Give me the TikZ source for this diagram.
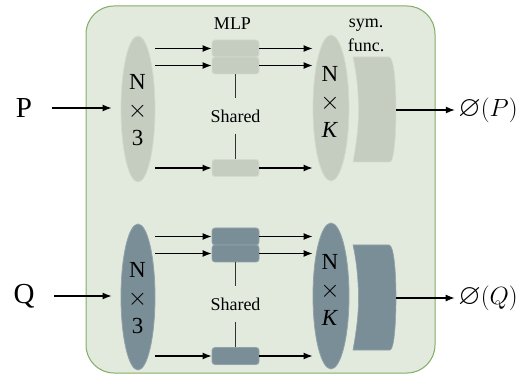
\documentclass[tikz,border=0pt]{standalone}
\usepackage{fontspec}
\setmainfont{Liberation Serif}
\usepackage{amssymb}
\usetikzlibrary{arrows.meta,shapes.geometric,calc}

\definecolor{framefill}{RGB}{226,234,222}
\definecolor{frameline}{RGB}{130,172,100}
\definecolor{grayfill}{RGB}{197,204,192}
\definecolor{grayline}{RGB}{212,218,207}
\definecolor{slatefill}{RGB}{122,142,151}
\definecolor{slateline}{RGB}{146,162,169}

\tikzset{
  arr/.style={line width=1.3pt,-{Latex[length=9pt,width=7pt]}},
  cloud/.style={ellipse,minimum width=34pt,minimum height=146pt,inner sep=0pt,line width=0.8pt},
  mlpbox/.style={rounded corners=3pt,minimum width=47pt,minimum height=17pt,inner sep=0pt,line width=0.8pt},
  small/.style={font=\fontsize{18}{24}\selectfont,align=center},
  dimtext/.style={font=\fontsize{23}{28}\selectfont,align=center},
  big/.style={font=\fontsize{29}{30}\selectfont}
}

\begin{document}
\begin{tikzpicture}[x=1pt,y=-1pt]
\useasboundingbox (0,0) rectangle (527,379);
% outer box
\draw[frameline,fill=framefill,line width=1pt,rounded corners=28pt] (86,6) rectangle (435,373);
\node[small] (mlplabel) at (232.5,24) {MLP};
\node[small] (symlabel) at (366,35) {sym.\\func.};
% one row per point set
\foreach \tag/\dy/\fc/\lc in {P/0/grayfill/grayline, Q/188/slatefill/slateline} {
\begin{scope}[shift={(0,\dy)}]
  \node[big] (in\tag) at (24,108) {\tag};
  \node[cloud,fill=\fc,draw=\lc] (pts\tag) at (138,109) {};
  \node[dimtext] (dimin\tag) at (137.5,110) {N\\$\times$\\3};
  \node[cloud,fill=\fc,draw=\lc,minimum width=36pt] (feat\tag) at (331,108) {};
  \node[dimtext] (dimout\tag) at (330,102) {N\\$\times$\\\textit{K}};
  \node[mlpbox,fill=\fc,draw=\lc] (mlp\tag a) at (235.5,48.5) {};
  \node[mlpbox,fill=\fc,draw=\lc] (mlp\tag b) at (235.5,65.5) {};
  \node[mlpbox,fill=\fc,draw=\lc] (mlp\tag c) at (235.5,168) {};
  \node[small,minimum height=35pt,inner sep=0pt] (shared\tag) at (235.5,116) {Shared};
  % symmetric function block
  \filldraw[fill=\fc,draw=\lc,line width=0.6pt] (353,57) -- (389,57)
    .. controls (394,57) and (396,85) .. (396,110)
    .. controls (396,135) and (394,162) .. (390,162) -- (353,162)
    .. controls (357,140) and (358.5,125) .. (358.5,110)
    .. controls (358.5,95) and (357,75) .. (353,57) -- cycle;
  \coordinate (sym\tag) at (396,110);
  \node[big] (out\tag) at (488,110) {$\varnothing(\tag)$};
  % connectors
  \draw[arr,shorten <=16pt,shorten >=9pt] (in\tag.east) -- (in\tag.east -| pts\tag.west);
  \foreach \b in {a,b,c} {
    \draw[arr] (mlp\tag\b.west -| pts\tag.east) -- (mlp\tag\b.west);
    \draw[arr] (mlp\tag\b.east) -- (mlp\tag\b.east -| feat\tag.west);
  }
  \draw[line width=0.9pt,black!80] (mlp\tag b.south) -- (shared\tag.north);
  \draw[line width=0.9pt,black!80] (shared\tag.south) -- (mlp\tag c.north);
  \draw[arr] (sym\tag) -- (sym\tag -| out\tag.west);
\end{scope}
}
\end{tikzpicture}
\end{document}
